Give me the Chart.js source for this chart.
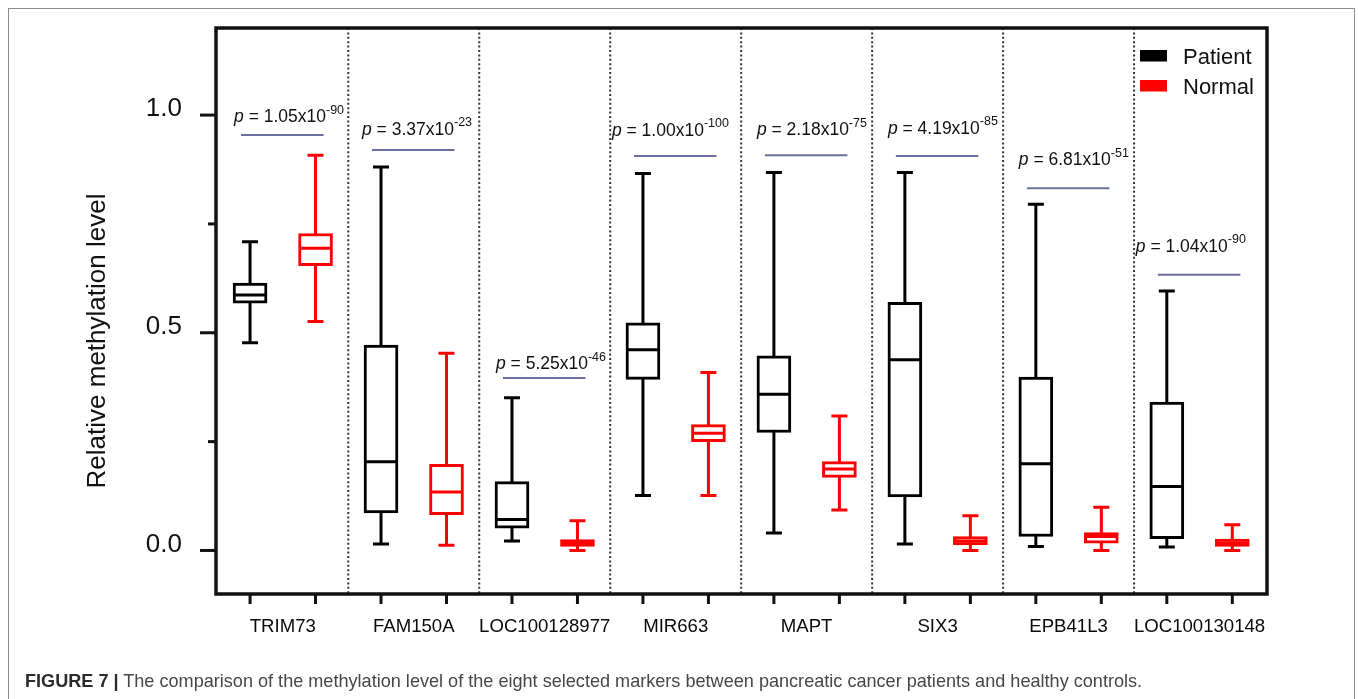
<!DOCTYPE html>
<html>
<head>
<meta charset="utf-8">
<script src="https://cdn.jsdelivr.net/npm/chart.js@4/dist/chart.umd.min.js"></script>
<style>
  html, body { margin: 0; padding: 0; background: #fff; }
  #wrap { position: relative; width: 1358px; height: 699px; overflow: hidden; }
  #frame { position: absolute; left: 8px; top: 8px; width: 1345px; height: 720px;
           border: 1.5px solid #8c8c8c; border-bottom: none; }
  canvas { position: absolute; left: 0; top: 0; }
  #caption { position: absolute; left: 25px; top: 671px; white-space: nowrap;
             font: 18.1px "Liberation Sans", Arial, sans-serif; color: #474747; }
  #caption b { color: #2b2b2b; }
</style>
</head>
<body>
<div id="wrap">
  <div id="frame"></div>
  <canvas id="chart" width="1358" height="699"></canvas>
  <div id="caption"><b>FIGURE 7 |</b> The comparison of the methylation level of the eight selected markers between pancreatic cancer patients and healthy controls.</div>
</div>
<script>
// Markers and per-group five-number summaries (relative methylation level)
const markers = ['TRIM73', 'FAM150A', 'LOC100128977', 'MIR663', 'MAPT', 'SIX3', 'EPB41L3', 'LOC100130148'];

const patientMin    = [0.477, 0.015, 0.022, 0.126, 0.040, 0.015, 0.009, 0.008];
const patientQ1     = [0.568, 0.086, 0.051, 0.393, 0.271, 0.123, 0.032, 0.027];
const patientMedian = [0.587, 0.204, 0.071, 0.461, 0.359, 0.438, 0.199, 0.147];
const patientQ3     = [0.614, 0.472, 0.158, 0.523, 0.447, 0.570, 0.398, 0.341];
const patientMax    = [0.709, 0.881, 0.351, 0.866, 0.868, 0.868, 0.795, 0.596];

const normalMin     = [0.526, 0.012, 0.000, 0.126, 0.093, 0.000, 0.000, 0.000];
const normalQ1      = [0.654, 0.082, 0.009, 0.250, 0.168, 0.013, 0.017, 0.009];
const normalMedian  = [0.694, 0.134, 0.017, 0.269, 0.187, 0.022, 0.032, 0.017];
const normalQ3      = [0.728, 0.198, 0.025, 0.289, 0.204, 0.032, 0.041, 0.026];
const normalMax     = [0.908, 0.453, 0.068, 0.409, 0.309, 0.080, 0.099, 0.059];

// Significance between the two groups of each marker
const pMantissa = ['1.05', '3.37', '5.25', '1.00', '2.18', '4.19', '6.81', '1.04'];
const pExponent = ['-90', '-23', '-46', '-100', '-75', '-85', '-51', '-90'];
const pBarLevel = [0.954, 0.920, 0.396, 0.906, 0.908, 0.906, 0.832, 0.633];

const yTickValues = [0, 0.25, 0.5, 0.75, 1.0];

const FONT = '"Liberation Sans", Arial, Helvetica, sans-serif';
Chart.defaults.font.family = FONT;

const groups = [
  { label: 'Patient', color: '#000000', offset: 0, min: patientMin, q1: patientQ1, med: patientMedian, q3: patientQ3, max: patientMax },
  { label: 'Normal',  color: '#ff0000', offset: 1, min: normalMin,  q1: normalQ1,  med: normalMedian,  q3: normalQ3,  max: normalMax }
];

const BOX_W = 34;
const CAP_W = 16;
const LW = 3;

// layout tweaks for the p-value labels: horizontal shift from bar start, gap above bar
const pTextShift = [-7, -10, -7, -22, -8, -8, -8, -22];
const pTextGap   = [18, 20, 14, 25, 25, 27, 28, 28];

const boxPlot = {
  id: 'boxPlot',
  beforeDatasetsDraw(chart) {
    const { ctx, chartArea: a, scales: { x, y } } = chart;
    ctx.save();
    // dotted separators between markers
    ctx.strokeStyle = '#333';
    ctx.lineWidth = 2;
    ctx.setLineDash([2, 2.4]);
    for (let i = 1; i < markers.length; i++) {
      const px = x.getPixelForValue(2 * i - 0.5);
      ctx.beginPath();
      ctx.moveTo(px, a.top);
      ctx.lineTo(px, a.bottom);
      ctx.stroke();
    }
    ctx.setLineDash([]);
    // whiskers and caps
    ctx.lineWidth = LW;
    groups.forEach(g => {
      ctx.strokeStyle = g.color;
      markers.forEach((m, i) => {
        const px = x.getPixelForValue(2 * i + g.offset);
        const yMin = y.getPixelForValue(g.min[i]);
        const yMax = y.getPixelForValue(g.max[i]);
        ctx.beginPath();
        ctx.moveTo(px, yMin); ctx.lineTo(px, yMax);
        ctx.moveTo(px - CAP_W / 2, yMin); ctx.lineTo(px + CAP_W / 2, yMin);
        ctx.moveTo(px - CAP_W / 2, yMax); ctx.lineTo(px + CAP_W / 2, yMax);
        ctx.stroke();
      });
    });
    ctx.restore();
  },
  afterDatasetsDraw(chart) {
    const { ctx, scales: { x, y } } = chart;
    ctx.save();
    ctx.lineWidth = LW;
    groups.forEach(g => {
      ctx.strokeStyle = g.color;
      markers.forEach((m, i) => {
        const px = x.getPixelForValue(2 * i + g.offset);
        const py = y.getPixelForValue(g.med[i]);
        ctx.beginPath();
        ctx.moveTo(px - BOX_W / 2 + 1, py);
        ctx.lineTo(px + BOX_W / 2 - 1, py);
        ctx.stroke();
      });
    });
    ctx.restore();
  },
  afterDraw(chart) {
    const { ctx, chartArea: a, scales: { x, y } } = chart;
    ctx.save();
    // plot frame
    ctx.strokeStyle = '#111';
    ctx.lineWidth = 3.5;
    ctx.strokeRect(a.left, a.top, a.right - a.left, a.bottom - a.top);
    // y tick marks (long at labelled values, short in between)
    ctx.lineWidth = 3;
    yTickValues.forEach(v => {
      const py = y.getPixelForValue(v);
      const major = Math.abs(v * 2 - Math.round(v * 2)) < 1e-9;
      ctx.beginPath();
      ctx.moveTo(a.left - (major ? 16 : 8), py);
      ctx.lineTo(a.left, py);
      ctx.stroke();
    });
    // x tick marks at each box
    for (let k = 0; k < markers.length * 2; k++) {
      const px = x.getPixelForValue(k);
      ctx.beginPath();
      ctx.moveTo(px, a.bottom);
      ctx.lineTo(px, a.bottom + 10);
      ctx.stroke();
    }
    // y axis title
    ctx.save();
    ctx.translate(98, 341);
    ctx.rotate(-Math.PI / 2);
    ctx.fillStyle = '#111';
    ctx.font = '26px ' + FONT;
    ctx.textAlign = 'center';
    ctx.textBaseline = 'middle';
    ctx.fillText('Relative methylation level', 0, 0);
    ctx.restore();
    // legend
    ctx.font = '22px ' + FONT;
    ctx.textBaseline = 'middle';
    ctx.textAlign = 'left';
    groups.forEach((g, j) => {
      const top = a.top + 22 + j * 30;
      ctx.fillStyle = g.color;
      ctx.fillRect(a.right - 127, top, 27, 11.5);
      ctx.fillStyle = '#111';
      ctx.fillText(g.label, a.right - 84, top + 8);
    });
    // p-value bars and labels
    markers.forEach((m, i) => {
      const x0 = x.getPixelForValue(2 * i) - 9;
      const x1 = x.getPixelForValue(2 * i + 1) + 8;
      const py = y.getPixelForValue(pBarLevel[i]);
      ctx.strokeStyle = '#6b6fa0';
      ctx.lineWidth = 2;
      ctx.beginPath();
      ctx.moveTo(x0, py); ctx.lineTo(x1, py);
      ctx.stroke();
      let tx = x0 + pTextShift[i];
      const ty = py - pTextGap[i];
      ctx.fillStyle = '#111';
      ctx.textBaseline = 'middle';
      ctx.font = 'italic 17.5px ' + FONT;
      ctx.fillText('p', tx, ty);
      tx += ctx.measureText('p').width;
      ctx.font = '17.5px ' + FONT;
      const main = ' = ' + pMantissa[i] + 'x10';
      ctx.fillText(main, tx, ty);
      tx += ctx.measureText(main).width;
      ctx.font = '12.5px ' + FONT;
      ctx.fillText(pExponent[i], tx, ty - 7);
    });
    ctx.restore();
  }
};

const boxData = g => markers.map((m, i) => ({ x: 2 * i + g.offset, y: [g.q1[i], g.q3[i]] }));

new Chart(document.getElementById('chart'), {
  type: 'bar',
  data: {
    datasets: groups.map(g => ({
      label: g.label,
      data: boxData(g),
      backgroundColor: '#ffffff',
      borderColor: g.color,
      borderWidth: LW,
      borderSkipped: false,
      barThickness: BOX_W,
      grouped: false
    }))
  },
  options: {
    responsive: false,
    animation: false,
    devicePixelRatio: 1,
    layout: { padding: { left: 0, top: 28, right: 91, bottom: 0 } },
    plugins: { legend: { display: false }, tooltip: { enabled: false } },
    scales: {
      x: {
        type: 'linear',
        min: -0.52,
        max: 15.53,
        offset: false,
        afterBuildTicks(s) { s.ticks = markers.map((m, i) => ({ value: 2 * i + 0.5 })); },
        afterFit(s) { s.height = 105; s.paddingLeft = 0; s.paddingRight = 0; },
        grid: { display: false, drawTicks: false },
        border: { display: false },
        ticks: {
          autoSkip: false,
          maxRotation: 0,
          padding: 22,
          color: '#0a0a0a',
          font: { size: 18.6 },
          callback: v => markers[Math.round((v - 0.5) / 2)]
        }
      },
      y: {
        min: -0.1,
        max: 1.2,
        afterBuildTicks(s) { s.ticks = yTickValues.map(v => ({ value: v })); },
        afterFit(s) { s.width = 216; s.paddingTop = 0; s.paddingBottom = 0; },
        grid: { display: false, drawTicks: false },
        border: { display: false },
        ticks: {
          padding: 34,
          labelOffset: -6,
          color: '#111',
          font: { size: 26 },
          callback: v => (Math.abs(v * 2 - Math.round(v * 2)) < 1e-9 ? v.toFixed(1) : '')
        }
      }
    }
  },
  plugins: [boxPlot]
});
</script>
</body>
</html>
